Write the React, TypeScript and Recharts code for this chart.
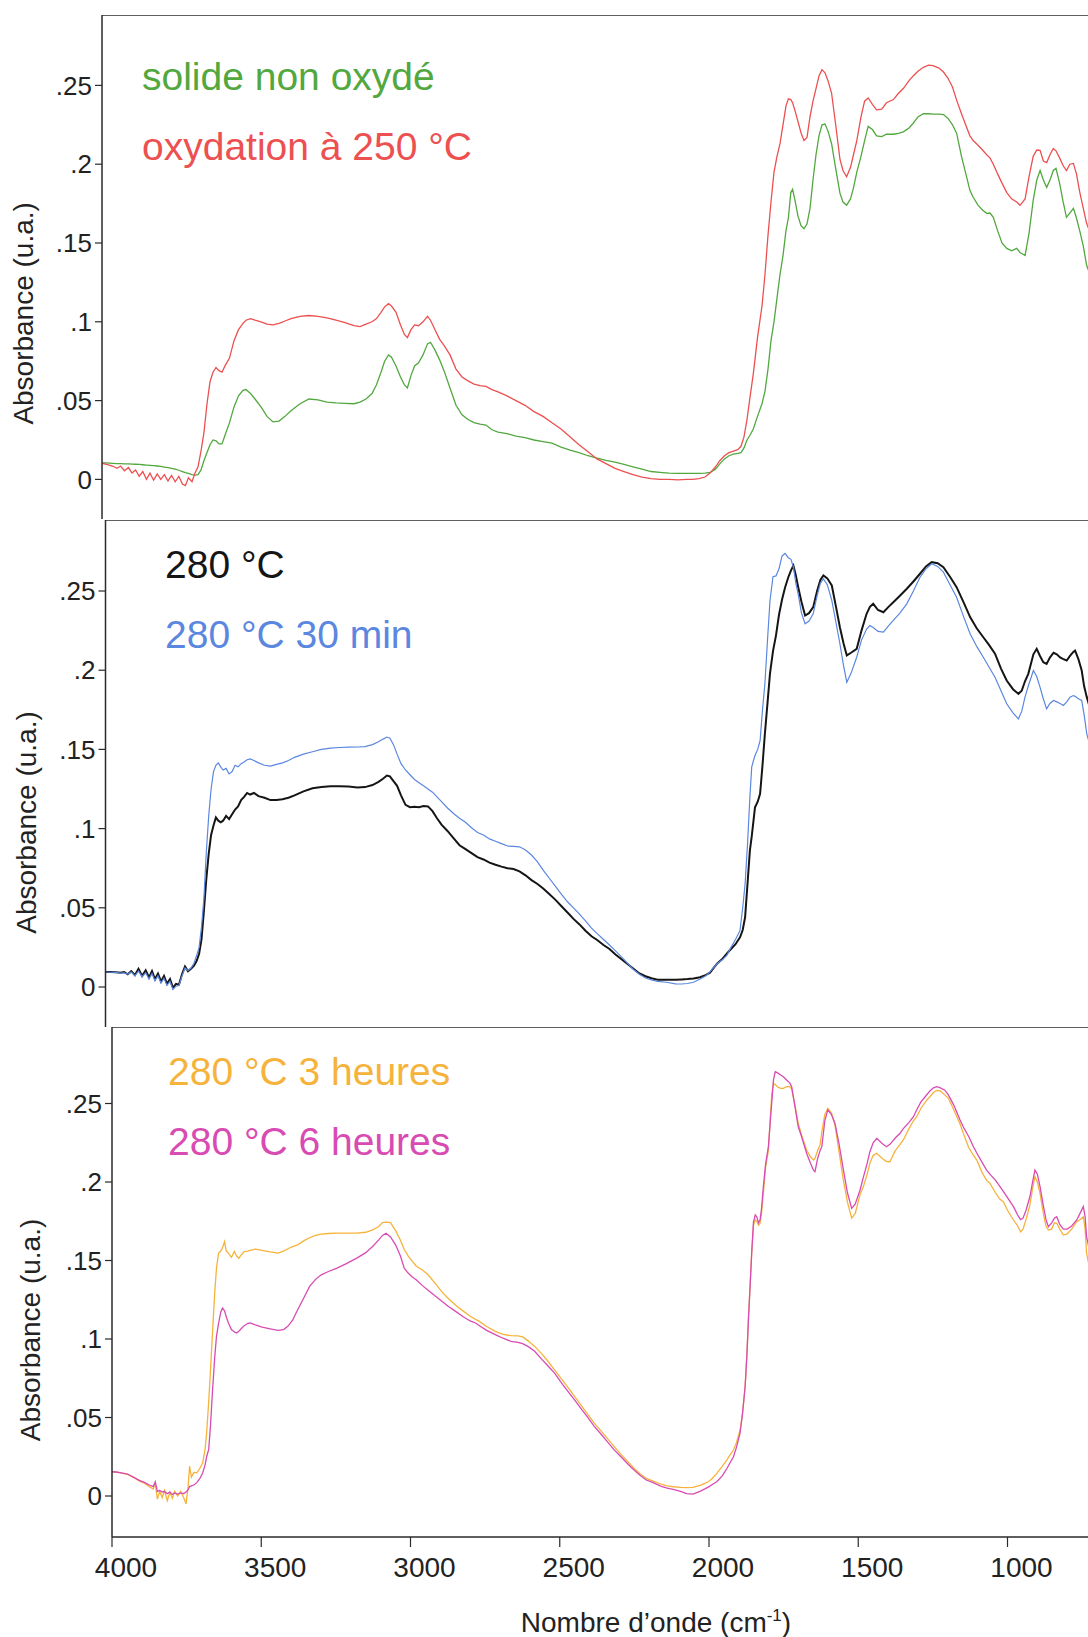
import React from 'react';
import { LineChart, Line, XAxis, YAxis, ReferenceLine, Legend } from 'recharts';

const FONT = '"Liberation Sans", Arial, Helvetica, sans-serif';
const AXIS = '#2a2a2a';
const GREEN = '#52a83f';
const RED = '#ec5050';
const BLACK = '#151515';
const BLUE = '#5b87e0';
const ORANGE = '#f6b33c';
const MAGENTA = '#d84bb3';

const yTickValues = [0, 0.05, 0.1, 0.15, 0.2, 0.25];
const yTickLabels = ['0', '.05', '.1', '.15', '.2', '.25'];
const xTickValues = [4000, 3500, 3000, 2500, 2000, 1500, 1000];
const xTickLabels = ['4000', '3500', '3000', '2500', '2000', '1500', '1000'];
const yAxisTitle = 'Absorbance (u.a.)';
const xAxisTitle = 'Nombre d\u2019onde (cm';
const xAxisTitleSup = '-1';
const xAxisTitleEnd = ')';

// ---------- Panel 1 ----------
const p1Wavenumbers = [
  4005, 3985, 3965, 3950, 3938, 3925, 3912, 3900, 3888, 3876,
  3864, 3852, 3840, 3828, 3816, 3804, 3792, 3780, 3768, 3756,
  3744, 3732, 3722, 3712, 3700, 3690, 3680, 3670, 3660, 3650,
  3640, 3630, 3620, 3610, 3600, 3590, 3575, 3560, 3545, 3530,
  3520, 3505, 3490, 3470, 3450, 3430, 3410, 3390, 3370, 3340,
  3310, 3280, 3250, 3220, 3190, 3160, 3140, 3120, 3100, 3085,
  3070, 3058, 3045, 3035, 3020, 3005, 2992, 2982, 2970, 2958,
  2945, 2930, 2915, 2905, 2890, 2875, 2860, 2840, 2820, 2800,
  2780, 2760, 2740, 2720, 2700, 2680, 2650, 2620, 2590, 2560,
  2530, 2500, 2470, 2440, 2410, 2380, 2350, 2320, 2290, 2260,
  2230, 2200, 2170, 2140, 2110, 2080, 2050, 2030, 2010, 1990,
  1973, 1955, 1940, 1925, 1910, 1895, 1880, 1870, 1860, 1850,
  1840, 1829, 1815, 1800, 1790, 1780, 1770, 1760, 1750, 1740,
  1730, 1720, 1712, 1704, 1698, 1690, 1680, 1670, 1660, 1650,
  1640, 1630, 1620, 1610, 1600, 1590, 1580, 1568, 1555, 1540,
  1530, 1518, 1505, 1495, 1484, 1470, 1458, 1446, 1432, 1418,
  1401, 1385, 1362, 1345, 1329, 1310, 1296, 1280, 1262, 1245,
  1230, 1210, 1195, 1180, 1165, 1151, 1135, 1118, 1107, 1096,
  1080, 1065, 1051, 1040, 1029, 1015, 1000, 984, 968, 951,
  940, 923, 910, 896, 884, 873, 862, 851, 840, 829,
  820, 808, 796, 785, 774, 762, 752, 740, 729, 718,
  705, 690, 675,
];
const p1SolideNonOxyde = [
  0.0105, 0.0105, 0.0102, 0.0100, 0.0100, 0.0099, 0.0098, 0.0097, 0.0096, 0.0095,
  0.0093, 0.0091, 0.0089, 0.0087, 0.0085, 0.0082, 0.0078, 0.0074, 0.0070, 0.0065,
  0.0058, 0.0050, 0.0043, 0.0038, 0.0030, 0.0027, 0.0030, 0.0060, 0.0120, 0.0170,
  0.0220, 0.0250, 0.0245, 0.0225, 0.0225, 0.0280, 0.0360, 0.0460, 0.0530, 0.0565,
  0.0570, 0.0545, 0.0510, 0.0460, 0.0400, 0.0365, 0.0370, 0.0400, 0.0435, 0.0480,
  0.0510, 0.0505, 0.0490, 0.0485, 0.0482, 0.0480, 0.0490, 0.0510, 0.0545, 0.0600,
  0.0680, 0.0750, 0.0790, 0.0775, 0.0720, 0.0650, 0.0600, 0.0580, 0.0660, 0.0720,
  0.0740, 0.0790, 0.0860, 0.0870, 0.0820, 0.0760, 0.0690, 0.0580, 0.0470, 0.0410,
  0.0380, 0.0360, 0.0350, 0.0345, 0.0315, 0.0300, 0.0290, 0.0275, 0.0265, 0.0250,
  0.0240, 0.0230, 0.0205, 0.0185, 0.0170, 0.0150, 0.0135, 0.0120, 0.0110, 0.0095,
  0.0080, 0.0065, 0.0050, 0.0045, 0.0040, 0.0038, 0.0038, 0.0038, 0.0038, 0.0040,
  0.0045, 0.0065, 0.0100, 0.0130, 0.0150, 0.0160, 0.0165, 0.0170, 0.0200, 0.0250,
  0.0280, 0.0320, 0.0400, 0.0480, 0.0560, 0.0700, 0.0880, 0.1000, 0.1150, 0.1300,
  0.1420, 0.1580, 0.1660, 0.1820, 0.1840, 0.1770, 0.1670, 0.1610, 0.1590, 0.1620,
  0.1720, 0.1900, 0.2060, 0.2180, 0.2250, 0.2255, 0.2210, 0.2130, 0.1980, 0.1815,
  0.1760, 0.1740, 0.1780, 0.1850, 0.1950, 0.2050, 0.2150, 0.2240, 0.2220, 0.2180,
  0.2175, 0.2190, 0.2190, 0.2195, 0.2205, 0.2230, 0.2260, 0.2300, 0.2320, 0.2320,
  0.2318, 0.2318, 0.2315, 0.2290, 0.2250, 0.2195, 0.2050, 0.1920, 0.1834, 0.1790,
  0.1740, 0.1710, 0.1688, 0.1690, 0.1663, 0.1580, 0.1500, 0.1466, 0.1450, 0.1466,
  0.1440, 0.1421, 0.1560, 0.1770, 0.1900, 0.1960, 0.1900, 0.1853, 0.1900, 0.1960,
  0.1973, 0.1880, 0.1760, 0.1663, 0.1690, 0.1720, 0.1660, 0.1570, 0.1480, 0.1360,
  0.1290, 0.1200, 0.1120,
];
const p1Oxydation250 = [
  0.0105, 0.0095, 0.0085, 0.0070, 0.0085, 0.0055, 0.0075, 0.0040, 0.0060, 0.0020,
  0.0050, 0.0000, 0.0040, -0.0005, 0.0035, 0.0000, 0.0030, -0.0010, 0.0025, -0.0015,
  0.0020, -0.0030, -0.0040, 0.0010, -0.0015, 0.0040, 0.0080, 0.0180, 0.0300, 0.0480,
  0.0620, 0.0680, 0.0710, 0.0690, 0.0680, 0.0720, 0.0770, 0.0880, 0.0950, 0.0990,
  0.1010, 0.1020, 0.1010, 0.1000, 0.0985, 0.0980, 0.0990, 0.1005, 0.1020, 0.1035,
  0.1040, 0.1035, 0.1025, 0.1010, 0.0995, 0.0975, 0.0970, 0.0985, 0.1000, 0.1020,
  0.1060, 0.1095, 0.1115, 0.1100, 0.1060, 0.0980, 0.0920, 0.0900, 0.0950, 0.0980,
  0.0975, 0.1000, 0.1035, 0.1010, 0.0950, 0.0890, 0.0850, 0.0790, 0.0700, 0.0650,
  0.0625, 0.0605, 0.0595, 0.0590, 0.0570, 0.0555, 0.0530, 0.0500, 0.0470, 0.0430,
  0.0400, 0.0360, 0.0320, 0.0270, 0.0220, 0.0175, 0.0130, 0.0100, 0.0070, 0.0050,
  0.0030, 0.0015, 0.0005, 0.0000, 0.0000, -0.0003, 0.0000, 0.0000, 0.0005, 0.0015,
  0.0040, 0.0080, 0.0120, 0.0150, 0.0170, 0.0180, 0.0190, 0.0210, 0.0270, 0.0380,
  0.0520, 0.0670, 0.0900, 0.1100, 0.1300, 0.1550, 0.1760, 0.1950, 0.2050, 0.2130,
  0.2250, 0.2370, 0.2415, 0.2410, 0.2390, 0.2340, 0.2270, 0.2200, 0.2150, 0.2170,
  0.2300, 0.2400, 0.2480, 0.2560, 0.2600, 0.2580, 0.2530, 0.2450, 0.2260, 0.2030,
  0.1960, 0.1920, 0.1980, 0.2060, 0.2150, 0.2300, 0.2400, 0.2420, 0.2380, 0.2345,
  0.2350, 0.2390, 0.2410, 0.2450, 0.2480, 0.2530, 0.2560, 0.2590, 0.2615, 0.2628,
  0.2625, 0.2610, 0.2585, 0.2545, 0.2490, 0.2405, 0.2320, 0.2234, 0.2180, 0.2150,
  0.2120, 0.2090, 0.2060, 0.2040, 0.2000, 0.1940, 0.1880, 0.1820, 0.1780, 0.1760,
  0.1739, 0.1780, 0.1920, 0.2050, 0.2090, 0.2088, 0.2020, 0.2010, 0.2060, 0.2100,
  0.2085, 0.2040, 0.1990, 0.1960, 0.2000, 0.2005, 0.1940, 0.1815, 0.1720, 0.1625,
  0.1560, 0.1500, 0.1450,
];

// ---------- Panel 2 ----------
const p2Wavenumbers = [
  4005, 3985, 3965, 3950, 3938, 3926, 3914, 3902, 3890, 3878,
  3866, 3855, 3845, 3835, 3825, 3815, 3805, 3795, 3785, 3775,
  3765, 3755, 3745, 3735, 3725, 3715, 3705, 3696, 3688, 3680,
  3672, 3664, 3656, 3648, 3640, 3632, 3624, 3616, 3608, 3598,
  3588, 3578, 3568, 3558, 3548, 3538, 3528, 3518, 3505, 3490,
  3470, 3450, 3430, 3410, 3390, 3370, 3340, 3310, 3280, 3250,
  3220, 3190, 3160, 3135, 3110, 3090, 3075, 3062, 3052, 3040,
  3028, 3015, 3000, 2985, 2970, 2955, 2940, 2925, 2910, 2895,
  2880, 2860, 2840, 2820, 2800, 2780, 2760, 2740, 2720, 2700,
  2680, 2660, 2640, 2620, 2600, 2580, 2560, 2540, 2520, 2500,
  2480, 2460, 2440, 2420, 2400, 2380, 2360, 2340, 2320, 2300,
  2280, 2260, 2240, 2220, 2200, 2180, 2160, 2130, 2100, 2080,
  2060, 2040, 2018, 2000, 1985, 1974, 1960, 1945, 1929, 1915,
  1900, 1885, 1876, 1868, 1860, 1852, 1846, 1840, 1835, 1826,
  1818, 1810, 1802, 1793, 1785, 1775, 1765, 1755, 1745, 1735,
  1724, 1715, 1707, 1699, 1691, 1680, 1668, 1655, 1641, 1628,
  1617, 1607, 1594, 1579, 1565, 1552, 1540, 1529, 1515, 1496,
  1480, 1463, 1452, 1441, 1425, 1407, 1390, 1374, 1352, 1329,
  1307, 1285, 1265, 1246, 1226, 1207, 1185, 1163, 1140, 1118,
  1096, 1074, 1055, 1035, 1015, 996, 975, 957, 946, 935,
  924, 907, 896, 885, 874, 863, 852, 840, 829, 818,
  807, 796, 785, 774, 768, 757, 746, 738, 729, 715,
  700, 685,
];
const p2Heated280 = [
  0.0095, 0.0095, 0.0093, 0.0090, 0.0095, 0.0080, 0.0100, 0.0075, 0.0115, 0.0070,
  0.0105, 0.0060, 0.0100, 0.0050, 0.0085, 0.0035, 0.0070, 0.0020, 0.0050, -0.0005,
  0.0020, 0.0015, 0.0080, 0.0130, 0.0100, 0.0115, 0.0135, 0.0165, 0.0210, 0.0300,
  0.0480, 0.0680, 0.0840, 0.0960, 0.1020, 0.1070, 0.1050, 0.1040, 0.1050, 0.1080,
  0.1060, 0.1090, 0.1120, 0.1140, 0.1180, 0.1200, 0.1225, 0.1215, 0.1225, 0.1205,
  0.1195, 0.1180, 0.1180, 0.1185, 0.1195, 0.1210, 0.1235, 0.1255, 0.1262, 0.1268,
  0.1268, 0.1265, 0.1260, 0.1262, 0.1275, 0.1295, 0.1315, 0.1335, 0.1330, 0.1300,
  0.1270, 0.1210, 0.1150, 0.1135, 0.1138, 0.1135, 0.1142, 0.1140, 0.1110, 0.1065,
  0.1025, 0.0985, 0.0940, 0.0895, 0.0870, 0.0845, 0.0820, 0.0805, 0.0785, 0.0772,
  0.0760, 0.0750, 0.0745, 0.0730, 0.0705, 0.0675, 0.0650, 0.0620, 0.0585, 0.0550,
  0.0510, 0.0470, 0.0430, 0.0395, 0.0355, 0.0320, 0.0295, 0.0265, 0.0240, 0.0205,
  0.0175, 0.0145, 0.0115, 0.0085, 0.0068, 0.0055, 0.0046, 0.0046, 0.0046, 0.0048,
  0.0050, 0.0053, 0.0062, 0.0075, 0.0090, 0.0117, 0.0150, 0.0175, 0.0211, 0.0240,
  0.0270, 0.0314, 0.0360, 0.0440, 0.0650, 0.0862, 0.0950, 0.1050, 0.1135, 0.1170,
  0.1220, 0.1400, 0.1600, 0.1800, 0.1980, 0.2120, 0.2220, 0.2350, 0.2445, 0.2520,
  0.2587, 0.2630, 0.2660, 0.2600, 0.2524, 0.2430, 0.2345, 0.2360, 0.2398, 0.2500,
  0.2570, 0.2598, 0.2580, 0.2535, 0.2400, 0.2271, 0.2170, 0.2093, 0.2110, 0.2135,
  0.2250, 0.2356, 0.2400, 0.2419, 0.2380, 0.2366, 0.2400, 0.2429, 0.2470, 0.2514,
  0.2560, 0.2609, 0.2655, 0.2682, 0.2675, 0.2650, 0.2590, 0.2524, 0.2430, 0.2335,
  0.2265, 0.2208, 0.2160, 0.2104, 0.2010, 0.1935, 0.1880, 0.1851, 0.1870, 0.1930,
  0.1977, 0.2100, 0.2135, 0.2090, 0.2050, 0.2040, 0.2080, 0.2110, 0.2100, 0.2080,
  0.2070, 0.2061, 0.2090, 0.2115, 0.2124, 0.2070, 0.1998, 0.1900, 0.1830, 0.1740,
  0.1650, 0.1600,
];
const p2Heated280_30min = [
  0.0095, 0.0093, 0.0092, 0.0088, 0.0090, 0.0082, 0.0095, 0.0070, 0.0100, 0.0065,
  0.0090, 0.0050, 0.0085, 0.0040, 0.0070, 0.0025, 0.0055, 0.0010, 0.0035, -0.0015,
  0.0005, 0.0010, 0.0070, 0.0120, 0.0105, 0.0120, 0.0150, 0.0200, 0.0250, 0.0380,
  0.0560, 0.0850, 0.1080, 0.1250, 0.1360, 0.1400, 0.1415, 0.1390, 0.1370, 0.1380,
  0.1345, 0.1360, 0.1400, 0.1390, 0.1410, 0.1420, 0.1435, 0.1440, 0.1430, 0.1415,
  0.1400, 0.1395, 0.1405, 0.1415, 0.1430, 0.1450, 0.1470, 0.1485, 0.1500, 0.1508,
  0.1512, 0.1514, 0.1515, 0.1518, 0.1530, 0.1548, 0.1565, 0.1578, 0.1570, 0.1530,
  0.1470, 0.1410, 0.1370, 0.1340, 0.1310, 0.1290, 0.1270, 0.1250, 0.1230, 0.1200,
  0.1170, 0.1130, 0.1095, 0.1065, 0.1040, 0.1005, 0.0975, 0.0960, 0.0935, 0.0920,
  0.0905, 0.0890, 0.0888, 0.0885, 0.0865, 0.0833, 0.0790, 0.0735, 0.0685, 0.0635,
  0.0585, 0.0538, 0.0500, 0.0460, 0.0418, 0.0372, 0.0335, 0.0300, 0.0265, 0.0228,
  0.0190, 0.0150, 0.0110, 0.0080, 0.0057, 0.0045, 0.0035, 0.0030, 0.0020, 0.0019,
  0.0022, 0.0030, 0.0050, 0.0070, 0.0095, 0.0120, 0.0150, 0.0170, 0.0199, 0.0250,
  0.0300, 0.0357, 0.0500, 0.0650, 0.0900, 0.1200, 0.1388, 0.1430, 0.1461, 0.1500,
  0.1556, 0.1750, 0.1914, 0.2200, 0.2440, 0.2590, 0.2595, 0.2640, 0.2720, 0.2737,
  0.2710, 0.2700, 0.2650, 0.2550, 0.2480, 0.2360, 0.2293, 0.2310, 0.2356, 0.2470,
  0.2550, 0.2577, 0.2540, 0.2440, 0.2300, 0.2167, 0.2030, 0.1924, 0.1980, 0.2082,
  0.2190, 0.2260, 0.2282, 0.2270, 0.2245, 0.2240, 0.2280, 0.2314, 0.2360, 0.2419,
  0.2500, 0.2587, 0.2640, 0.2672, 0.2655, 0.2619, 0.2540, 0.2461, 0.2340, 0.2230,
  0.2150, 0.2082, 0.2020, 0.1956, 0.1870, 0.1788, 0.1730, 0.1693, 0.1740, 0.1830,
  0.1900, 0.1998, 0.1960, 0.1893, 0.1820, 0.1756, 0.1790, 0.1809, 0.1800, 0.1790,
  0.1777, 0.1800, 0.1830, 0.1840, 0.1835, 0.1820, 0.1809, 0.1720, 0.1598, 0.1500,
  0.1420, 0.1380,
];

// ---------- Panel 3 ----------
const p3Wavenumbers = [
  4005, 3987, 3968, 3948, 3928, 3908, 3890, 3875, 3862, 3855,
  3848, 3840, 3832, 3824, 3815, 3806, 3798, 3790, 3780, 3770,
  3760, 3752, 3745, 3740, 3734, 3726, 3716, 3706, 3696, 3688,
  3683, 3676, 3670, 3663, 3656, 3650, 3643, 3636, 3630, 3623,
  3617, 3610, 3600, 3590, 3583, 3575, 3565, 3557, 3545, 3537,
  3520, 3497, 3470, 3444, 3425, 3411, 3395, 3378, 3358, 3338,
  3318, 3299, 3275, 3246, 3215, 3180, 3150, 3127, 3107, 3094,
  3082, 3067, 3050, 3034, 3021, 3008, 2994, 2981, 2960, 2941,
  2915, 2895, 2875, 2849, 2822, 2800, 2782, 2769, 2745, 2716,
  2690, 2663, 2640, 2624, 2604, 2584, 2560, 2540, 2518, 2490,
  2470, 2451, 2430, 2408, 2385, 2360, 2340, 2319, 2295, 2275,
  2253, 2230, 2210, 2187, 2160, 2140, 2120, 2095, 2075, 2054,
  2030, 2014, 2001, 1990, 1974, 1955, 1940, 1930, 1918, 1908,
  1896, 1888, 1879, 1873, 1868, 1862, 1857, 1851, 1845, 1840,
  1834, 1829, 1824, 1818, 1810, 1801, 1795, 1790, 1784, 1778,
  1770, 1760, 1751, 1740, 1729, 1723, 1712, 1701, 1690, 1673,
  1660, 1650, 1645, 1636, 1628, 1622, 1612, 1602, 1590, 1578,
  1565, 1550, 1536, 1522, 1510, 1494, 1483, 1470, 1461, 1450,
  1438, 1420, 1405, 1394, 1376, 1360, 1349, 1330, 1315, 1304,
  1290, 1271, 1260, 1248, 1237, 1225, 1210, 1198, 1180, 1159,
  1148, 1130, 1114, 1103, 1085, 1070, 1059, 1040, 1025, 1014,
  1000, 980, 966, 956, 948, 938, 925, 916, 908, 900,
  891, 880, 871, 863, 852, 843, 835, 825, 813, 800,
  785, 768, 757, 746, 740, 735, 725, 710, 690,
];
const p3Heated3h = [
  0.0155, 0.0153, 0.0146, 0.0138, 0.0118, 0.0095, 0.0080, 0.0060, 0.0045, 0.0080,
  -0.0020, 0.0030, -0.0010, 0.0035, -0.0030, 0.0025, -0.0015, 0.0030, 0.0000, 0.0030,
  -0.0010, -0.0050, 0.0060, 0.0190, 0.0120, 0.0150, 0.0148, 0.0175, 0.0212, 0.0300,
  0.0403, 0.0600, 0.0805, 0.1050, 0.1292, 0.1450, 0.1547, 0.1560, 0.1580, 0.1620,
  0.1560, 0.1547, 0.1520, 0.1557, 0.1530, 0.1515, 0.1540, 0.1557, 0.1560, 0.1565,
  0.1572, 0.1565, 0.1555, 0.1547, 0.1560, 0.1575, 0.1588, 0.1600, 0.1625, 0.1645,
  0.1660, 0.1668, 0.1672, 0.1674, 0.1674, 0.1674, 0.1680, 0.1695, 0.1715, 0.1741,
  0.1745, 0.1741, 0.1690, 0.1631, 0.1570, 0.1530, 0.1494, 0.1465, 0.1440, 0.1409,
  0.1350, 0.1300, 0.1261, 0.1215, 0.1176, 0.1145, 0.1125, 0.1112, 0.1080, 0.1049,
  0.1030, 0.1021, 0.1020, 0.1013, 0.0985, 0.0953, 0.0905, 0.0860, 0.0805, 0.0735,
  0.0685, 0.0636, 0.0582, 0.0525, 0.0466, 0.0410, 0.0365, 0.0318, 0.0265, 0.0225,
  0.0180, 0.0140, 0.0112, 0.0095, 0.0075, 0.0065, 0.0059, 0.0055, 0.0053, 0.0055,
  0.0068, 0.0080, 0.0092, 0.0110, 0.0144, 0.0190, 0.0230, 0.0260, 0.0293, 0.0340,
  0.0420, 0.0520, 0.0696, 0.0900, 0.1121, 0.1350, 0.1546, 0.1726, 0.1760, 0.1750,
  0.1725, 0.1737, 0.1800, 0.1928, 0.2100, 0.2200, 0.2400, 0.2550, 0.2629, 0.2620,
  0.2605, 0.2597, 0.2597, 0.2607, 0.2607, 0.2590, 0.2490, 0.2374, 0.2300, 0.2204,
  0.2160, 0.2140, 0.2150, 0.2200, 0.2236, 0.2320, 0.2430, 0.2469, 0.2440, 0.2363,
  0.2200, 0.2013, 0.1870, 0.1770, 0.1800, 0.1920, 0.1970, 0.2050, 0.2120, 0.2170,
  0.2183, 0.2150, 0.2130, 0.2129, 0.2200, 0.2240, 0.2268, 0.2340, 0.2390, 0.2416,
  0.2470, 0.2520, 0.2543, 0.2570, 0.2583, 0.2580, 0.2555, 0.2533, 0.2460, 0.2370,
  0.2310, 0.2220, 0.2170, 0.2140, 0.2060, 0.2010, 0.1992, 0.1930, 0.1890, 0.1875,
  0.1820, 0.1758, 0.1720, 0.1683, 0.1700, 0.1760, 0.1853, 0.1960, 0.2034, 0.2000,
  0.1928, 0.1800, 0.1720, 0.1694, 0.1700, 0.1740, 0.1737, 0.1700, 0.1662, 0.1670,
  0.1700, 0.1747, 0.1760, 0.1779, 0.1700, 0.1546, 0.1450, 0.1380, 0.1330,
];
const p3Heated6h = [
  0.0155, 0.0153, 0.0148, 0.0140, 0.0120, 0.0100, 0.0085, 0.0070, 0.0060, 0.0090,
  0.0030, 0.0035, 0.0025, 0.0030, 0.0015, 0.0025, 0.0010, 0.0020, 0.0012, 0.0020,
  0.0015, 0.0025, 0.0040, 0.0060, 0.0065, 0.0070, 0.0085, 0.0110, 0.0148, 0.0200,
  0.0250, 0.0297, 0.0450, 0.0678, 0.0880, 0.1017, 0.1100, 0.1170, 0.1197, 0.1180,
  0.1140, 0.1102, 0.1060, 0.1045, 0.1038, 0.1050, 0.1070, 0.1085, 0.1100, 0.1102,
  0.1090, 0.1076, 0.1065, 0.1055, 0.1060, 0.1081, 0.1120, 0.1186, 0.1260, 0.1335,
  0.1380, 0.1409, 0.1430, 0.1451, 0.1480, 0.1515, 0.1550, 0.1589, 0.1630, 0.1660,
  0.1674, 0.1650, 0.1600, 0.1530, 0.1451, 0.1420, 0.1395, 0.1377, 0.1340, 0.1310,
  0.1271, 0.1240, 0.1210, 0.1176, 0.1140, 0.1115, 0.1102, 0.1085, 0.1055, 0.1028,
  0.1005, 0.0985, 0.0978, 0.0970, 0.0950, 0.0922, 0.0870, 0.0830, 0.0784, 0.0710,
  0.0660, 0.0614, 0.0560, 0.0505, 0.0445, 0.0390, 0.0345, 0.0297, 0.0250, 0.0210,
  0.0169, 0.0130, 0.0102, 0.0085, 0.0062, 0.0050, 0.0042, 0.0030, 0.0015, 0.0012,
  0.0030, 0.0045, 0.0058, 0.0072, 0.0091, 0.0130, 0.0175, 0.0210, 0.0250, 0.0310,
  0.0400, 0.0520, 0.0696, 0.0900, 0.1121, 0.1350, 0.1546, 0.1747, 0.1790, 0.1779,
  0.1740, 0.1758, 0.1830, 0.1970, 0.2120, 0.2225, 0.2380, 0.2501, 0.2650, 0.2703,
  0.2695, 0.2682, 0.2670, 0.2650, 0.2630, 0.2607, 0.2480, 0.2352, 0.2290, 0.2183,
  0.2120, 0.2075, 0.2066, 0.2150, 0.2200, 0.2225, 0.2390, 0.2459, 0.2430, 0.2374,
  0.2250, 0.2080, 0.1930, 0.1832, 0.1860, 0.1949, 0.2030, 0.2120, 0.2193, 0.2250,
  0.2278, 0.2245, 0.2225, 0.2240, 0.2280, 0.2310, 0.2340, 0.2380, 0.2416, 0.2460,
  0.2510, 0.2554, 0.2580, 0.2600, 0.2607, 0.2600, 0.2585, 0.2555, 0.2490, 0.2395,
  0.2350, 0.2290, 0.2225, 0.2185, 0.2125, 0.2076, 0.2050, 0.2010, 0.1970, 0.1940,
  0.1900, 0.1843, 0.1790, 0.1760, 0.1770, 0.1820, 0.1906, 0.2000, 0.2076, 0.2050,
  0.1970, 0.1850, 0.1760, 0.1715, 0.1740, 0.1770, 0.1779, 0.1730, 0.1700, 0.1700,
  0.1720, 0.1758, 0.1800, 0.1843, 0.1780, 0.1652, 0.1560, 0.1500, 0.1450,
];

type SeriesDef = { key: string; name: string; color: string; width: number; values: number[] };
type PanelDef = {
  id: string;
  wavenumbers: number[];
  series: SeriesDef[];
  top: number;
  plotLeft: number;
  plotHeight: number;
  yMin: number;
  yMax: number;
  pxPerCm: number;
  yTitleX: number;
  yTitleCY: number;
  legendLeft: number;
  legendTop: number;
  showXAxis: boolean;
};

const panels: PanelDef[] = [
  {
    id: 'p1',
    wavenumbers: p1Wavenumbers,
    series: [
      { key: 's1', name: 'solide non oxydé', color: GREEN, width: 1.3, values: p1SolideNonOxyde },
      { key: 's2', name: 'oxydation à 250 °C', color: RED, width: 1.3, values: p1Oxydation250 },
    ],
    top: 14.6, plotLeft: 102, plotHeight: 504.4, yMin: -0.02538, yMax: 0.29467, pxPerCm: 0.3,
    yTitleX: 33, yTitleCY: 313, legendLeft: 142, legendTop: 27.2, showXAxis: false,
  },
  {
    id: 'p2',
    wavenumbers: p2Wavenumbers,
    series: [
      { key: 's1', name: '280 °C', color: BLACK, width: 2, values: p2Heated280 },
      { key: 's2', name: '280 °C 30 min', color: BLUE, width: 1.2, values: p2Heated280_30min },
    ],
    top: 519.5, plotLeft: 105.5, plotHeight: 507.5, yMin: -0.02557, yMax: 0.29482, pxPerCm: 0.3,
    yTitleX: 36, yTitleCY: 822, legendLeft: 165, legendTop: 10.3, showXAxis: false,
  },
  {
    id: 'p3',
    wavenumbers: p3Wavenumbers,
    series: [
      { key: 's1', name: '280 °C 3 heures', color: ORANGE, width: 1.3, values: p3Heated3h },
      { key: 's2', name: '280 °C 6 heures', color: MAGENTA, width: 1.3, values: p3Heated6h },
    ],
    top: 1027, plotLeft: 112, plotHeight: 510, yMin: -0.02611, yMax: 0.29873, pxPerCm: 0.2985,
    yTitleX: 40, yTitleCY: 1330, legendLeft: 168, legendTop: 9.8, showXAxis: true,
  },
];

const CHART_WIDTH = 1100;
const X_AXIS_HEIGHT = 110;

function YTitle({ tx, tcy }: { tx: number; tcy: number }) {
  return (
    <text
      x={tx}
      y={tcy}
      transform={`rotate(-90 ${tx} ${tcy})`}
      textAnchor="middle"
      fontSize={28}
      fontFamily={FONT}
      fill="#222"
    >
      {yAxisTitle}
    </text>
  );
}

function XTitle({ tx, ty }: { tx: number; ty: number }) {
  return (
    <text x={tx} y={ty} textAnchor="middle" fontSize={28} fontFamily={FONT} fill="#222">
      {xAxisTitle}
      <tspan fontSize={17} dy={-11}>{xAxisTitleSup}</tspan>
      <tspan dy={11}>{xAxisTitleEnd}</tspan>
    </text>
  );
}

function renderXTick(props: any) {
  const { x, y, payload } = props;
  const idx = xTickValues.indexOf(payload.value);
  const label = idx >= 0 ? xTickLabels[idx] : String(payload.value);
  return (
    <text x={x + 14} y={y} dy="0.71em" textAnchor="middle" fontSize={28} fontFamily={FONT} fill="#222">
      {label}
    </text>
  );
}

function Panel({ p }: { p: PanelDef }) {
  const data = p.wavenumbers.map((wn, i) => {
    const row: Record<string, number> = { wn };
    p.series.forEach((s) => {
      row[s.key] = s.values[i];
    });
    return row;
  });
  const xMin = 4000 - (CHART_WIDTH - p.plotLeft) / p.pxPerCm;
  const xAxisHeight = p.showXAxis ? X_AXIS_HEIGHT : 0;
  const height = p.plotHeight + xAxisHeight;

  return (
    <div style={{ position: 'absolute', left: 0, top: p.top }}>
      <LineChart width={CHART_WIDTH} height={height} data={data} margin={{ top: 0, right: 0, bottom: 0, left: 0 }}>
        <XAxis
          type="number"
          dataKey="wn"
          domain={[xMin, 4000]}
          reversed
          allowDataOverflow
          hide={!p.showXAxis}
          ticks={xTickValues}
          interval={0}
          height={xAxisHeight}
          tickSize={10}
          tickMargin={10}
          axisLine={{ stroke: AXIS, strokeWidth: 1.5 }}
          tickLine={{ stroke: AXIS, strokeWidth: 1.2 }}
          tick={renderXTick}
          label={<XTitle tx={656} ty={605} />}
        />
        <YAxis
          type="number"
          domain={[p.yMin, p.yMax]}
          allowDataOverflow
          ticks={yTickValues}
          interval={0}
          width={p.plotLeft}
          tickSize={7}
          tickMargin={3}
          tickFormatter={(v: number) => {
            const idx = yTickValues.indexOf(v);
            return idx >= 0 ? yTickLabels[idx] : String(v);
          }}
          tick={{ fontSize: 26, fill: '#222', fontFamily: FONT }}
          axisLine={{ stroke: AXIS, strokeWidth: 1.5 }}
          tickLine={{ stroke: AXIS, strokeWidth: 1.2 }}
          label={<YTitle tx={p.yTitleX} tcy={p.yTitleCY - p.top} />}
        />
        <ReferenceLine y={p.yMax} stroke={AXIS} strokeWidth={1.5} />
        {p.series.map((s) => (
          <Line
            key={s.key}
            type="linear"
            dataKey={s.key}
            name={s.name}
            stroke={s.color}
            strokeWidth={s.width}
            dot={false}
            activeDot={false}
            isAnimationActive={false}
          />
        ))}
        <Legend
          layout="vertical"
          verticalAlign="middle"
          align="center"
          wrapperStyle={{ top: p.legendTop, left: p.legendLeft, width: 'auto', height: 'auto' }}
          content={() => (
            <div style={{ fontFamily: FONT, fontSize: 39, lineHeight: '70px' }}>
              {p.series.map((s) => (
                <div key={s.key} style={{ color: s.color, whiteSpace: 'nowrap' }}>
                  {s.name}
                </div>
              ))}
            </div>
          )}
        />
      </LineChart>
    </div>
  );
}

export default function App() {
  return (
    <div
      style={{
        position: 'fixed',
        left: 0,
        top: 0,
        width: 1088,
        height: 1637,
        overflow: 'hidden',
        background: '#ffffff',
      }}
    >
      {panels.map((p) => (
        <Panel key={p.id} p={p} />
      ))}
    </div>
  );
}
